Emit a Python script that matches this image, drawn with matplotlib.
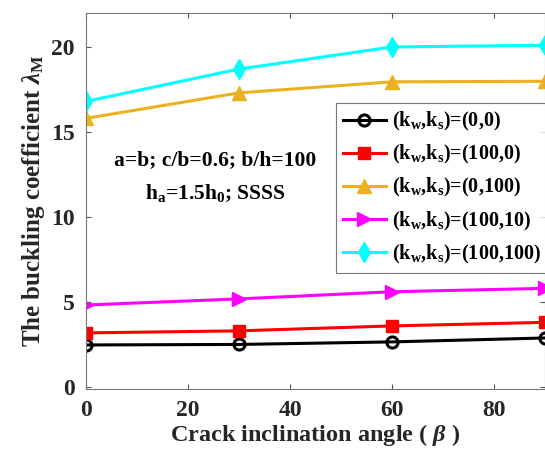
import matplotlib
matplotlib.use("Agg")
import matplotlib.pyplot as plt

plt.rcParams['font.family'] = 'Liberation Serif'
plt.rcParams['font.weight'] = 'bold'
plt.rcParams['mathtext.fontset'] = 'custom'
plt.rcParams['mathtext.rm'] = 'Liberation Serif:bold'
plt.rcParams['mathtext.it'] = 'Liberation Serif:italic'
plt.rcParams['mathtext.bf'] = 'Liberation Serif:bold'

angles = [0, 30, 60, 90]
s00 = [2.47, 2.5, 2.65, 2.88]
s100_0 = [3.18, 3.3, 3.59, 3.8]
s0_100 = [15.8, 17.3, 17.95, 17.98]
s100_10 = [4.82, 5.18, 5.6, 5.8]
s100_100 = [16.8, 18.7, 20.0, 20.1]

labels = ["(k$_\\mathrm{w}$,k$_\\mathrm{s}$)=(0,0)",
          "(k$_\\mathrm{w}$,k$_\\mathrm{s}$)=(100,0)",
          "(k$_\\mathrm{w}$,k$_\\mathrm{s}$)=(0,100)",
          "(k$_\\mathrm{w}$,k$_\\mathrm{s}$)=(100,10)",
          "(k$_\\mathrm{w}$,k$_\\mathrm{s}$)=(100,100)"]

fig = plt.figure(figsize=(5.45, 4.58), dpi=100)
ax = fig.add_axes([0.158, 0.1507, 0.842, 0.821])

lw = 2.2
ax.plot(angles, s00, color='black', marker='o', ms=8, mfc='none', mew=2.2, lw=lw, label=labels[0])
ax.plot(angles, s100_0, color='red', marker='s', ms=8, lw=lw, label=labels[1])
ax.plot(angles, s0_100, color='#EDB120', marker='^', ms=10, lw=lw, label=labels[2])
ax.plot(angles, s100_10, color='magenta', marker='>', ms=10, lw=lw, label=labels[3])
ax.plot(angles, s100_100, color='cyan', marker='d', ms=10, lw=lw, label=labels[4])

ax.set_xlim(0, 90)
ax.set_ylim(-0.12, 22)
ax.set_xticks([0, 20, 40, 60, 80])
ax.set_yticks([0, 5, 10, 15, 20])
ax.tick_params(direction='in', top=True, right=True, labelsize=17, color='#555555', pad=8)
for sp in ax.spines.values():
    sp.set_color('#777777')
    sp.set_linewidth(0.8)
for t in ax.get_xticklabels() + ax.get_yticklabels():
    t.set_fontweight('bold')
    t.set_color('#262626')

ax.set_xlabel("Crack inclination angle ( $\\mathit{\\beta}$ )", fontsize=17.5, fontweight='bold', color='#262626', labelpad=1)
ax.set_ylabel("The buckling coefficient $\\lambda_\\mathrm{M}$", fontsize=18, fontweight='bold', color='#262626', labelpad=3)

ax.text(0.281, 0.61, "a=b; c/b=0.6; b/h=100", transform=ax.transAxes, fontsize=15.5, fontweight='bold', ha='center', va='center')
ax.text(0.281, 0.52, "h$_\\mathrm{a}$=1.5h$_\\mathrm{0}$; SSSS", transform=ax.transAxes, fontsize=15.5, fontweight='bold', ha='center', va='center')

leg = ax.legend(loc='upper left', bbox_to_anchor=(0.545, 0.76), fontsize=14.5, frameon=True,
                fancybox=False, edgecolor='#555555', handlelength=2.1, borderpad=0.35,
                labelspacing=0.5, handletextpad=0.3, borderaxespad=0)
leg.get_frame().set_linewidth(0.8)

fig.savefig("out.png", dpi=100)
